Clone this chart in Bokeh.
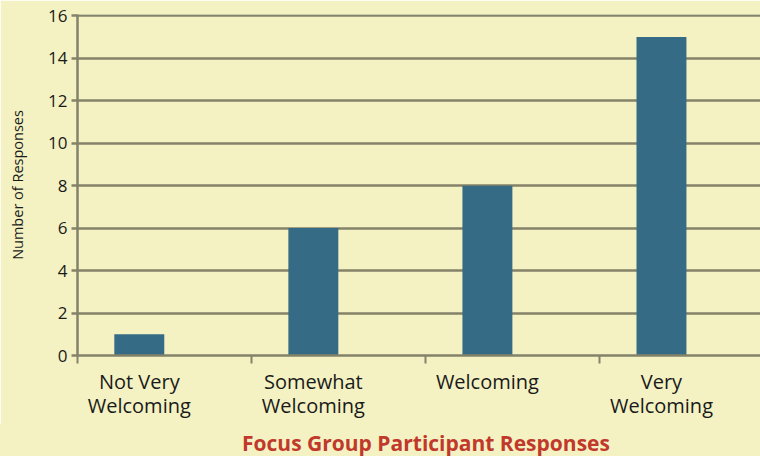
from bokeh.plotting import figure
from bokeh.models import Range1d, FixedTicker, LinearAxis, Div
from bokeh.layouts import column
from bokeh.embed import file_html
from bokeh.resources import INLINE

categories_line1 = ["Not Very", "Somewhat", "Welcoming", "Very"]
categories_line2 = ["Welcoming", "Welcoming", "", "Welcoming"]
responses = [1, 6, 8, 15]
positions = [1, 2, 3, 4]
y_ticks = [0, 2, 4, 6, 8, 10, 12, 14, 16]
boundaries = [0.645, 1.645, 2.645, 3.645]
x_title = "Focus Group Participant Responses"
y_title = "Number of Responses"

BG = "#f4f2c3"
BAR = "#356b84"
LINE = "#85826a"
FONT = "Open Sans"
TXT = "#1a1a1a"
RED = "#c0392b"

p = figure(width=760, height=424, output_backend="svg", toolbar_location=None,
           x_range=Range1d(0.645, 4.569), y_range=Range1d(0, 16.06),
           min_border_left=77, min_border_right=0, min_border_top=14, min_border_bottom=69)
p.background_fill_color = BG
p.border_fill_color = BG
p.outline_line_color = None

p.vbar(x=positions, top=responses, width=0.287, color=BAR, line_color=None)

# x axis (first line of labels + boundary ticks)
xa = p.xaxis[0]
xa.ticker = FixedTicker(ticks=positions, minor_ticks=boundaries)
xa.major_label_overrides = {pos: lab for pos, lab in zip(positions, categories_line1)}
xa.major_tick_line_color = None
xa.major_tick_out = 0
xa.minor_tick_out = 8
xa.minor_tick_in = 0
xa.minor_tick_line_color = LINE
xa.minor_tick_line_width = 2
xa.axis_line_color = LINE
xa.axis_line_width = 2.5
xa.major_label_text_font = FONT
xa.major_label_text_font_size = "20px"
xa.major_label_text_color = TXT
xa.major_label_standoff = 4

# second line of category labels
xa2 = LinearAxis(ticker=FixedTicker(ticks=positions, minor_ticks=[]))
xa2.major_label_overrides = {pos: lab for pos, lab in zip(positions, categories_line2)}
xa2.axis_line_color = None
xa2.major_tick_line_color = None
xa2.minor_tick_line_color = None
xa2.major_tick_out = 0
xa2.major_tick_in = 0
xa2.minor_tick_out = 0
xa2.major_label_text_font = FONT
xa2.major_label_text_font_size = "20px"
xa2.major_label_text_color = TXT
xa2.major_label_standoff = -6
p.add_layout(xa2, "below")

# y axis
ya = p.yaxis[0]
ya.ticker = FixedTicker(ticks=y_ticks)
ya.minor_tick_line_color = None
ya.major_tick_out = 6
ya.major_tick_in = 0
ya.major_tick_line_color = LINE
ya.major_tick_line_width = 2.5
ya.axis_line_color = LINE
ya.axis_line_width = 2.5
ya.major_label_text_font = FONT
ya.major_label_text_font_size = "17px"
ya.major_label_text_color = TXT
ya.major_label_standoff = 4
ya.axis_label = y_title
ya.axis_label_text_font = FONT
ya.axis_label_text_font_size = "14.5px"
ya.axis_label_text_font_style = "normal"
ya.axis_label_text_color = TXT
ya.axis_label_standoff = 18

p.xgrid.grid_line_color = None
p.ygrid.grid_line_color = LINE
p.ygrid.grid_line_width = 2.5

title_html = (
    '<div style="box-sizing:border-box;width:760px;height:32px;margin:0;'
    'padding:6px 0 0 92px;background:%s;text-align:center;'
    "font-family:'Open Sans';font-size:21px;font-weight:bold;line-height:26px;"
    'color:%s;white-space:nowrap;">%s</div>' % (BG, RED, x_title)
)
title_div = Div(text=title_html, width=760, height=32,
                styles={"background-color": BG, "margin": "0", "padding": "0"})

layout = column(p, title_div, spacing=0)

open("out.html", "w").write(file_html(layout, INLINE))
